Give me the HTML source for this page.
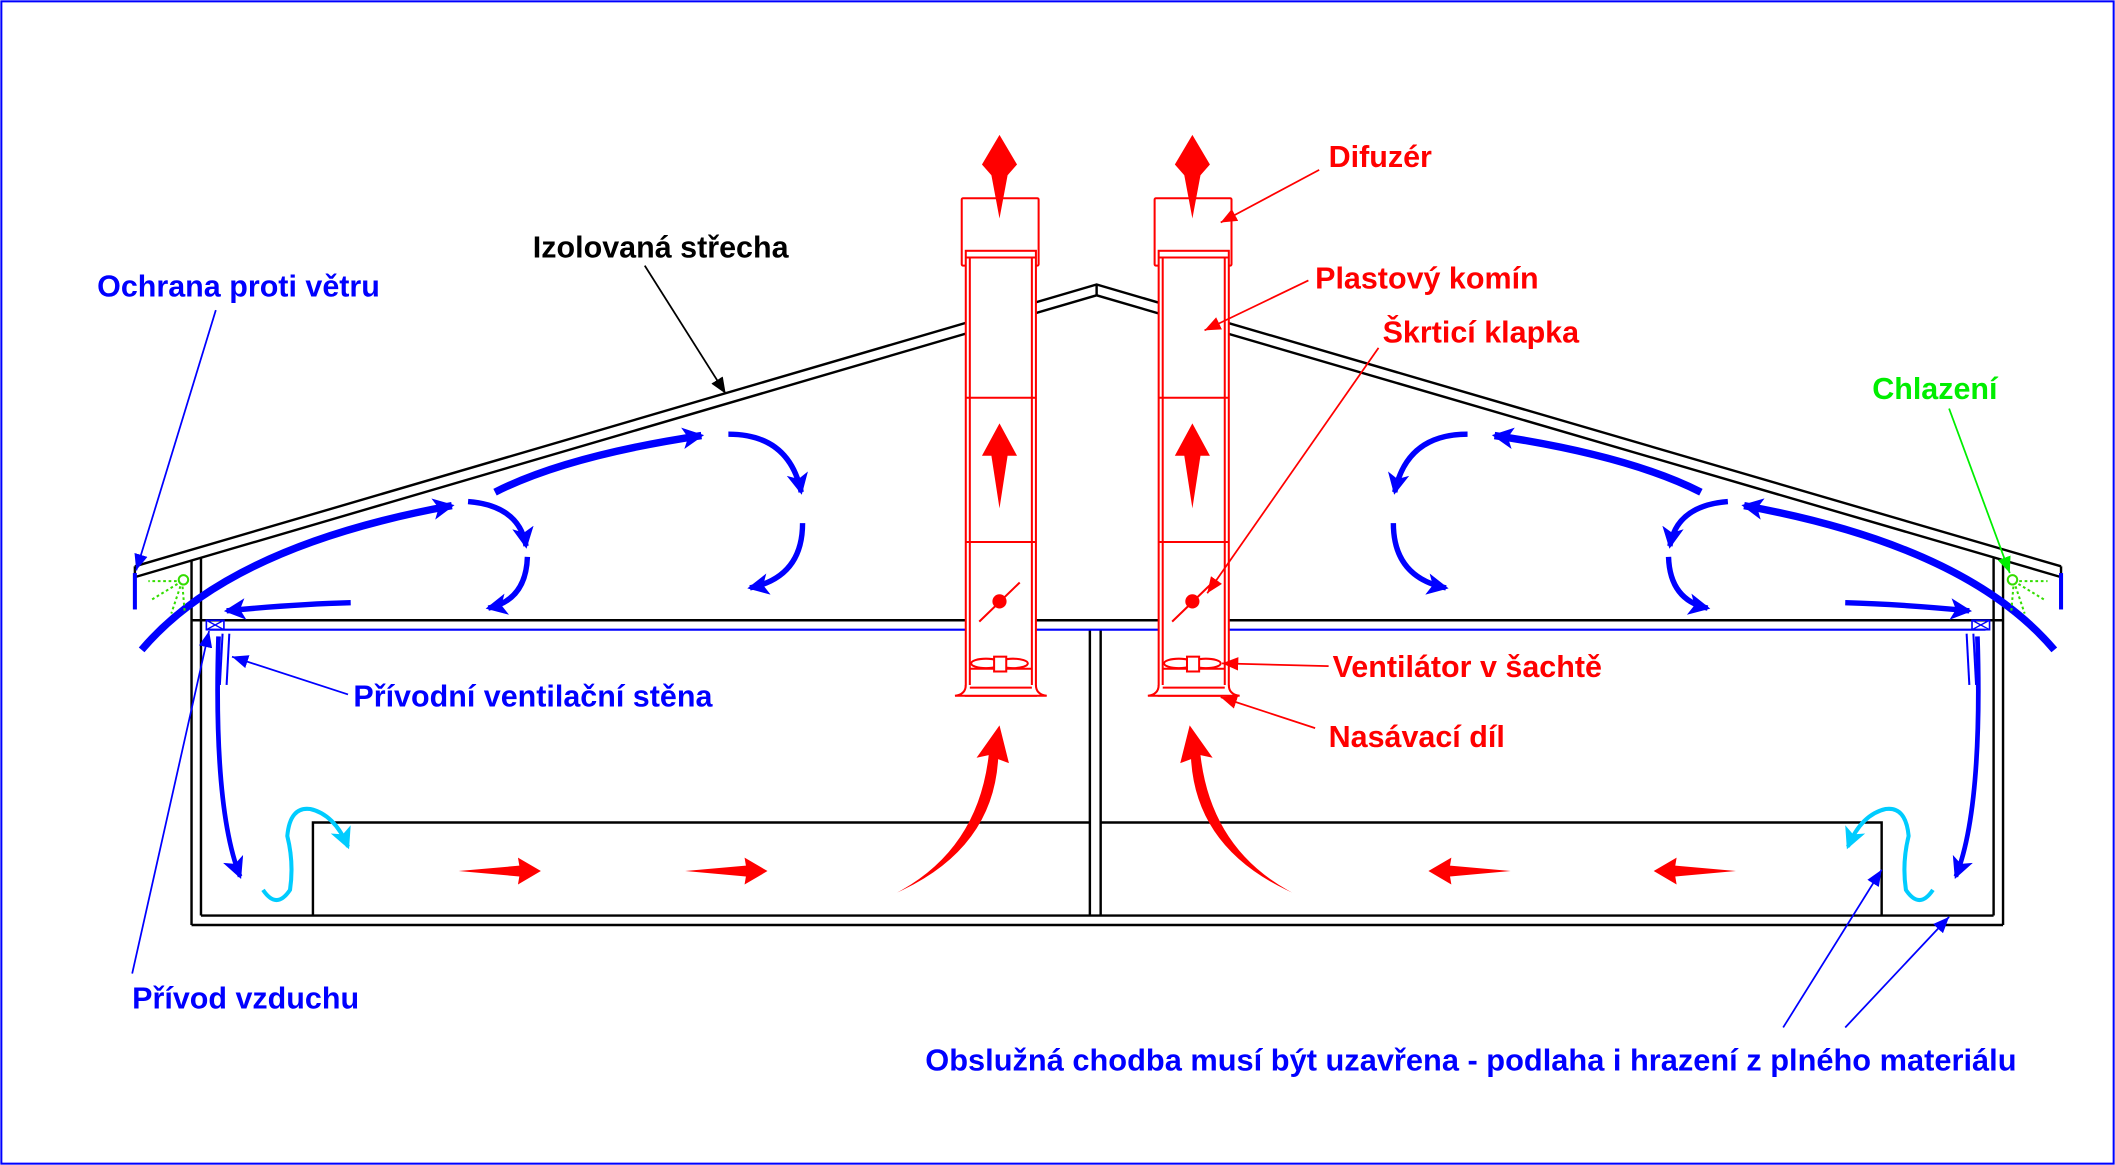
<!DOCTYPE html>
<html><head><meta charset="utf-8"><style>
html,body{margin:0;padding:0;background:#fff;}
svg{display:block;}
text{font-family:"Liberation Sans",Arial,sans-serif;font-weight:bold;font-size:22.6px;}
</style></head><body>
<svg width="2115" height="1165" viewBox="0 0 1568 864" preserveAspectRatio="none" xmlns="http://www.w3.org/2000/svg">
<defs>
<marker id="bh" markerUnits="userSpaceOnUse" markerWidth="20" markerHeight="20" refX="14" refY="8" orient="auto"><path d="M0,0 L16,8 L0,16 L4,8 Z" fill="#0000ff"/></marker>
<marker id="ch" markerUnits="userSpaceOnUse" markerWidth="20" markerHeight="20" refX="14" refY="8" orient="auto"><path d="M0,0 L16,8 L0,16 L4,8 Z" fill="#00ccff"/></marker>
<marker id="la" markerUnits="userSpaceOnUse" markerWidth="14" markerHeight="10" refX="12" refY="5" orient="auto"><path d="M0,0 L12,5 L0,10 Z" fill="#0000ff"/></marker>
<marker id="lr" markerUnits="userSpaceOnUse" markerWidth="14" markerHeight="10" refX="12" refY="5" orient="auto"><path d="M0,0 L12,5 L0,10 Z" fill="#ff0000"/></marker>
<marker id="lk" markerUnits="userSpaceOnUse" markerWidth="14" markerHeight="10" refX="12" refY="5" orient="auto"><path d="M0,0 L12,5 L0,10 Z" fill="#000"/></marker>
<marker id="lg" markerUnits="userSpaceOnUse" markerWidth="14" markerHeight="10" refX="12" refY="5" orient="auto"><path d="M0,0 L12,5 L0,10 Z" fill="#00ee00"/></marker>
<g id="leftflow">
 <path d="M105,482 Q170,405 335,375" fill="none" stroke="#0000ff" stroke-width="5.5" marker-end="url(#bh)"/>
 <path d="M367,365 Q420,338 520,323" fill="none" stroke="#0000ff" stroke-width="5.5" marker-end="url(#bh)"/>
 <path d="M347,372 Q385,375 390,405" fill="none" stroke="#0000ff" stroke-width="4" marker-end="url(#bh)"/>
 <path d="M391,413 Q390,445 362,451" fill="none" stroke="#0000ff" stroke-width="4" marker-end="url(#bh)"/>
 <path d="M540,322 Q585,322 594,365" fill="none" stroke="#0000ff" stroke-width="4" marker-end="url(#bh)"/>
 <path d="M595,388 Q595,428 556,436" fill="none" stroke="#0000ff" stroke-width="4" marker-end="url(#bh)"/>
 <path d="M260,447 Q220,448 168,453" fill="none" stroke="#0000ff" stroke-width="4" marker-end="url(#bh)"/>
 <path d="M162,472 Q158,600 178,650" fill="none" stroke="#0000ff" stroke-width="3.5" marker-end="url(#bh)"/>
 <path d="M195,660 Q205,675 215,660 Q218,640 213,620 Q215,598 230,600 Q248,604 258,628" fill="none" stroke="#00ccff" stroke-width="3" marker-end="url(#ch)"/>
 <line x1="100" y1="425" x2="100" y2="452" stroke="#0000ff" stroke-width="3"/>
 <line x1="165" y1="470" x2="163" y2="508" stroke="#0000ff" stroke-width="1.5"/>
 <line x1="170" y1="470" x2="168" y2="508" stroke="#0000ff" stroke-width="1.5"/>
 <rect x="153" y="460" width="13" height="7" fill="none" stroke="#0000ff" stroke-width="1.2"/>
 <path d="M153,460 L166,467 M153,467 L166,460" stroke="#0000ff" stroke-width="1"/>
 <g stroke="#33dd00" stroke-width="1.5" stroke-dasharray="2,2" fill="none">
  <line x1="135" y1="431" x2="110" y2="431"/><line x1="135" y1="431" x2="112" y2="445"/>
  <line x1="135" y1="431" x2="127" y2="455"/><line x1="135" y1="431" x2="137" y2="455"/>
 </g>
 <circle cx="136" cy="430" r="3.5" fill="#fff" stroke="#33dd00" stroke-width="1.5"/>
</g>
</defs>
<rect x="1" y="1" width="1566" height="862" fill="#fff" stroke="#0000ff" stroke-width="1.5"/>
<g fill="none" stroke="#000" stroke-width="1.8">
 <path d="M100,420 L813,211 L1528,420"/>
 <path d="M100,428 L813,219 L1528,428"/>
 <line x1="100" y1="420" x2="100" y2="428"/><line x1="1528" y1="420" x2="1528" y2="428"/>
 <line x1="813" y1="211" x2="813" y2="219"/>
 <line x1="142" y1="416" x2="142" y2="686"/><line x1="149" y1="414" x2="149" y2="679"/>
 <line x1="1478" y1="414" x2="1478" y2="679"/><line x1="1485" y1="416" x2="1485" y2="686"/>
 <line x1="142" y1="460" x2="1485" y2="460"/>
 <line x1="142" y1="686" x2="1485" y2="686"/><line x1="149" y1="679" x2="1478" y2="679"/>
 <line x1="808" y1="467" x2="808" y2="679"/><line x1="816" y1="467" x2="816" y2="679"/>
 <path d="M232,679 L232,610 L808,610"/>
 <path d="M1395,679 L1395,610 L816,610"/>
</g>
<line x1="155" y1="467" x2="1472" y2="467" stroke="#0000ff" stroke-width="1.5"/>
<g id="chim" fill="#fff" stroke="#ff0000" stroke-width="1.5">
 <rect x="713" y="147" width="57" height="50" rx="1"/>
 <rect x="716" y="186" width="52" height="330"/>
 <line x1="719" y1="191" x2="719" y2="510" fill="none"/><line x1="765" y1="191" x2="765" y2="510" fill="none"/>
 <line x1="716" y1="191" x2="768" y2="191"/>
 <line x1="716" y1="295" x2="768" y2="295"/><line x1="716" y1="402" x2="768" y2="402"/>
 <path d="M716,508 Q716,515 708,516 L776,516 Q768,515 768,508" fill="#fff"/>
 <line x1="719" y1="510" x2="765" y2="510"/>
 <line x1="719" y1="496" x2="765" y2="496"/>
 <ellipse cx="731" cy="492" rx="11" ry="3.5"/><ellipse cx="751" cy="492" rx="11" ry="3.5"/>
 <rect x="737" y="487" width="9" height="11"/>
 <line x1="726" y1="461" x2="756" y2="432"/>
 <circle cx="741" cy="446" r="4.5" fill="#ff0000"/>
 <path d="M735,130 L741,162 L747,130 L754,122 L741,100 L728,122 Z" fill="#ff0000" stroke="none"/>
 <path d="M735,338 L741,377 L747,338 L754,338 L741,314 L728,338 Z" fill="#ff0000" stroke="none"/>
</g>
<use href="#chim" transform="translate(143,0)"/>
<use href="#leftflow"/>
<use href="#leftflow" transform="translate(1628,0) scale(-1,1)"/>
<g fill="#ff0000">
 <path d="M340,646 L385,642 L384,636 L401,646 L384,656 L385,650 Z"/>
 <path d="M508,646 L553,642 L552,636 L569,646 L552,656 L553,650 Z"/>
 <path d="M1120,646 L1075,642 L1076,636 L1059,646 L1076,656 L1075,650 Z"/>
 <path d="M1287,646 L1242,642 L1243,636 L1226,646 L1243,656 L1242,650 Z"/>
 <path d="M665,662 Q725,630 733,560 L724,562 L741,538 L748,566 L740,563 Q736,630 665,662 Z"/>
 <path d="M958,662 Q898,630 890,560 L899,562 L882,538 L875,566 L883,563 Q887,630 958,662 Z"/>
</g>
<g stroke-width="1.3" fill="none">
 <line x1="160" y1="230" x2="101" y2="423" stroke="#0000ff" marker-end="url(#la)"/>
 <line x1="478" y1="197" x2="538" y2="292" stroke="#000" marker-end="url(#lk)"/>
 <line x1="978" y1="126" x2="905" y2="165" stroke="#ff0000" marker-end="url(#lr)"/>
 <line x1="970" y1="208" x2="893" y2="245" stroke="#ff0000" marker-end="url(#lr)"/>
 <line x1="1022" y1="258" x2="895" y2="440" stroke="#ff0000" marker-end="url(#lr)"/>
 <line x1="1445" y1="303" x2="1490" y2="425" stroke="#00ee00" marker-end="url(#lg)"/>
 <line x1="258" y1="515" x2="172" y2="487" stroke="#0000ff" marker-end="url(#la)"/>
 <line x1="985" y1="494" x2="906" y2="492" stroke="#ff0000" marker-end="url(#lr)"/>
 <line x1="975" y1="540" x2="905" y2="517" stroke="#ff0000" marker-end="url(#lr)"/>
 <line x1="98" y1="722" x2="155" y2="468" stroke="#0000ff" marker-end="url(#la)"/>
 <line x1="1322" y1="762" x2="1395" y2="645" stroke="#0000ff" marker-end="url(#la)"/>
 <line x1="1368" y1="762" x2="1445" y2="680" stroke="#0000ff" marker-end="url(#la)"/>
</g>
<text x="72" y="220" fill="#0000ff">Ochrana proti větru</text>
<text x="395" y="191" fill="#000">Izolovaná střecha</text>
<text x="985" y="124" fill="#ff0000">Difuzér</text>
<text x="975" y="214" fill="#ff0000">Plastový komín</text>
<text x="1025" y="254" fill="#ff0000">Škrticí klapka</text>
<text x="1388" y="296" fill="#00ee00">Chlazení</text>
<text x="262" y="524" fill="#0000ff">Přívodní ventilační stěna</text>
<text x="988" y="502" fill="#ff0000">Ventilátor v šachtě</text>
<text x="985" y="554" fill="#ff0000">Nasávací díl</text>
<text x="98" y="748" fill="#0000ff">Přívod vzduchu</text>
<text x="686" y="794" fill="#0000ff" textLength="809" lengthAdjust="spacingAndGlyphs">Obslužná chodba musí být uzavřena - podlaha i hrazení z plného materiálu</text>
</svg>
</body></html>
